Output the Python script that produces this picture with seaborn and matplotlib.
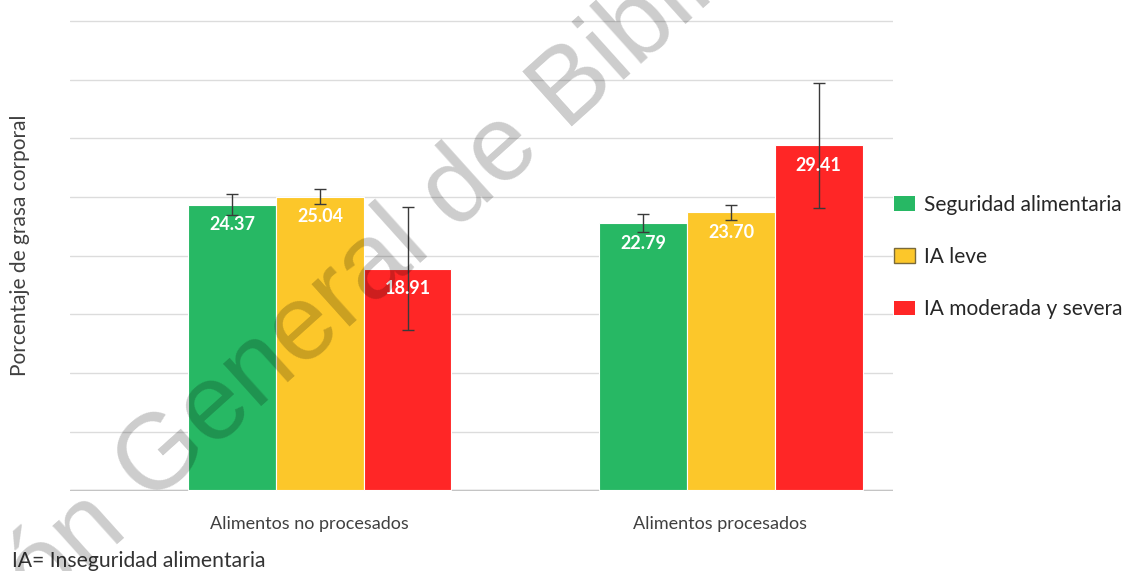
import matplotlib
matplotlib.use("Agg")
import matplotlib.pyplot as plt
import matplotlib.transforms as mtransforms
import seaborn as sns
import pandas as pd

# ---- data ----
categorias = ["Alimentos no procesados", "Alimentos procesados"]
grupos = ["Seguridad alimentaria", "IA leve", "IA moderada y severa"]
valores_sa = [24.37, 22.79]
valores_leve = [25.04, 23.70]
valores_mod = [18.91, 29.41]
error_sa = [0.9, 0.8]
error_leve = [0.65, 0.67]
error_mod = [5.25, 5.3]
colores = ["#27B864", "#FCC72A", "#FF2626"]
ylabel = "Porcentaje de grasa corporal"
nota = "IA= Inseguridad alimentaria"

valores = [valores_sa, valores_leve, valores_mod]
errores = [error_sa, error_leve, error_mod]
rows = []
for g, vals in zip(grupos, valores):
    for c, v in zip(categorias, vals):
        rows.append({"alimento": c, "grupo": g, "valor": v})
df = pd.DataFrame(rows)

sns.set_theme(style="white")
plt.rcParams["font.family"] = ["Lato", "DejaVu Sans"]

W, H = 1131, 571
fig = plt.figure(figsize=(W / 100, H / 100), dpi=100)
ax = fig.add_axes([70 / W, 80 / H, 823 / W, 471 / H])

sns.barplot(data=df, x="alimento", y="valor", hue="grupo", order=categorias,
            hue_order=grupos, palette=colores, saturation=1, width=0.64,
            errorbar=None, ax=ax, edgecolor="white", linewidth=0.8, zorder=2)

for cont, errs in zip(ax.containers, errores):
    xs = [p.get_x() + p.get_width() / 2 for p in cont]
    hs = [p.get_height() for p in cont]
    ax.errorbar(xs, hs, yerr=errs, fmt="none", ecolor="#3a3a3a", elinewidth=1,
                capsize=4, capthick=1, zorder=4)
    for x, h in zip(xs, hs):
        ax.annotate(f"{h:.2f}", (x, h), xytext=(0, -14.5), textcoords="offset points",
                    ha="center", va="center", color="white", fontweight="bold",
                    fontsize=13, zorder=5)

ax.set_ylim(-0.05, 40.1)
ax.set_xlim(-0.608, 1.394)
ax.set_yticks(range(0, 41, 5))
ax.set_yticklabels([])
ax.yaxis.grid(True, color="#DCDCDC", linewidth=1)
ax.set_axisbelow(True)
ax.axhline(0, color="#C4C4C4", linewidth=1, zorder=1)
for s in ax.spines.values():
    s.set_visible(False)
ax.tick_params(axis="y", left=False, length=0)
ax.tick_params(axis="x", length=0, pad=18, labelsize=13, labelcolor="#404040")
ax.set_xlabel("")
ax.set_ylabel("")
shift = mtransforms.ScaledTranslation(-11 / 100, 0, fig.dpi_scale_trans)
for lbl in ax.get_xticklabels():
    lbl.set_transform(lbl.get_transform() + shift)

handles, labels = ax.get_legend_handles_labels()
if ax.get_legend() is not None:
    ax.get_legend().remove()
leg = fig.legend(handles, labels, loc="center left",
                 bbox_to_anchor=(894 / W, (H - 257) / H), frameon=False,
                 borderpad=0, borderaxespad=0, handlelength=1.0, handleheight=0.72,
                 handletextpad=0.45, labelspacing=1.55, fontsize=15)
for i, h in enumerate(leg.legend_handles):
    if i == 1:
        h.set_edgecolor("#7a6a3a")
        h.set_linewidth(1)
    else:
        h.set_edgecolor("none")
for t in leg.get_texts():
    t.set_color("#262626")

fig.text(20 / W, (H - 245) / H, ylabel, rotation=90, ha="center", va="center",
         fontsize=15, color="#404040")
fig.text(12 / W, (H - 561) / H, nota, ha="left", va="center", fontsize=15.2,
         color="#333333")

# watermark
fig.text(150 / W, 64.5 / H, "General de Bibliotecas", rotation=42,
         rotation_mode="anchor", ha="left", va="baseline", fontsize=77,
         family=["Liberation Sans", "DejaVu Sans"], color="black", alpha=0.2, zorder=10)
fig.text(128 / W, 44.5 / H, "Dirección", rotation=42,
         rotation_mode="anchor", ha="right", va="baseline", fontsize=77,
         family=["Liberation Sans", "DejaVu Sans"], color="black", alpha=0.2, zorder=10)

fig.savefig("out.png", dpi=100)
